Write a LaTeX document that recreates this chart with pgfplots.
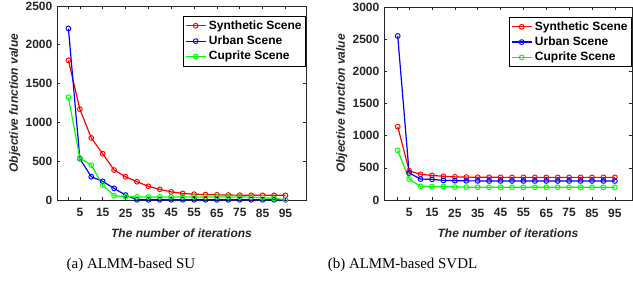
\documentclass[border=0pt]{standalone}
\usepackage{fontspec}
\setmainfont{Liberation Serif}
\setsansfont{Liberation Sans}
\usepackage{pgfplots}
\pgfplotsset{compat=1.18}
\begin{document}
\begin{tikzpicture}[x=1pt,y=1pt]
\useasboundingbox (0,0) rectangle (474.75,-212.25);
\pgfplotsset{
  myaxis/.style={
    scale only axis,
    anchor=south west,
    ymin=0,
    axis line style={black!85, line width=0.5pt},
    every tick/.style={black!85, line width=0.5pt},
    tick align=inside,
    major tick length=2pt,
    xtick={0,5,15,25,35,45,55,65,75,85,95},
    xticklabels={,5,15,25,35,45,55,65,75,85,95},
    /pgf/number format/assume math mode=true,
    /pgf/number format/set thousands separator={},
    scaled y ticks=false,
    ticklabel style={font=\sffamily\bfseries\fontsize{9}{10}\selectfont, text=black!85},
    xticklabel style={yshift=-3pt},
    label style={font=\sffamily\bfseries\itshape\fontsize{9}{10}\selectfont, text=black!85},
    xlabel={The number of iterations},
    ylabel={Objective function value},
    xlabel style={yshift=-1.5pt},
    ylabel style={yshift=-3pt},
    legend style={at={(1,0.948)}, anchor=north east, draw=black, line width=0.5pt,
      font=\sffamily\bfseries\fontsize{9}{10}\selectfont, inner sep=1pt, row sep=-0.5pt,
      legend cell align=left},
    legend image code/.code={
      \draw[mark repeat=2,mark phase=2] plot coordinates {(0pt,0pt)(7.5pt,0pt)(15pt,0pt)};},
    every axis plot/.append style={line width=0.9pt, mark=o, mark size=1.8pt, mark options={line width=0.7pt}},
  }
}
\begin{axis}[myaxis, at={(42.75pt,-150pt)}, width=186.75pt, height=145.5pt,
  ymax=2500, ytick={0,500,...,2500}, xmin=-5, xmax=104]
\addplot[color=red] coordinates {(0,1800)(5,1170)(10,800)(15,596)(20,386)(25,300)(30,236)(35,176)(40,137)(45,105)(50,85)(55,75)(60,70)(65,67)(70,64)(75,62)(80,61)(85,60)(90,60)(95,60)};
\addlegendentry{Synthetic Scene}
\addplot[color=blue] coordinates {(0,2210)(5,533)(10,300)(15,240)(20,150)(25,64)(30,3)(35,3)(40,3)(45,3)(50,3)(55,3)(60,3)(65,3)(70,3)(75,3)(80,3)(85,3)(90,3)(95,3)};
\addlegendentry{Urban Scene}
\addplot[color=green] coordinates {(0,1325)(5,540)(10,450)(15,193)(20,56)(25,43)(30,40)(35,40)(40,40)(45,40)(50,40)(55,40)(60,40)(65,40)(70,40)(75,38)(80,37)(85,30)(90,20)(95,5)};
\addlegendentry{Cuprite Scene}
\end{axis}
\begin{axis}[myaxis, at={(288pt,-150pt)}, width=186pt, height=144.75pt,
  ymax=3000, ytick={0,500,...,3000}, xmin=-6, xmax=102.5]
\addplot[color=red] coordinates {(0,1140)(5,456)(10,399)(15,383)(20,368)(25,360)(30,356)(35,354)(40,353)(45,352)(50,352)(55,352)(60,352)(65,352)(70,352)(75,352)(80,352)(85,352)(90,352)(95,352)};
\addlegendentry{Synthetic Scene}
\addplot[color=blue] coordinates {(0,2550)(5,420)(10,326)(15,321)(20,305)(25,300)(30,298)(35,297)(40,296)(45,296)(50,296)(55,296)(60,296)(65,296)(70,296)(75,296)(80,296)(85,296)(90,296)(95,296)};
\addlegendentry{Urban Scene}
\addplot[color=green] coordinates {(0,772)(5,326)(10,212)(15,207)(20,212)(25,202)(30,200)(35,198)(40,198)(45,198)(50,198)(55,198)(60,198)(65,198)(70,198)(75,198)(80,198)(85,198)(90,198)(95,198)};
\addlegendentry{Cuprite Scene}
\end{axis}
\node[font=\fontsize{11.2}{13}\selectfont] at (98.25,-198.75) {(a) ALMM-based SU};
\node[font=\fontsize{11.2}{13}\selectfont] at (301.9,-198.75) {(b) ALMM-based SVDL};
\end{tikzpicture}
\end{document}
